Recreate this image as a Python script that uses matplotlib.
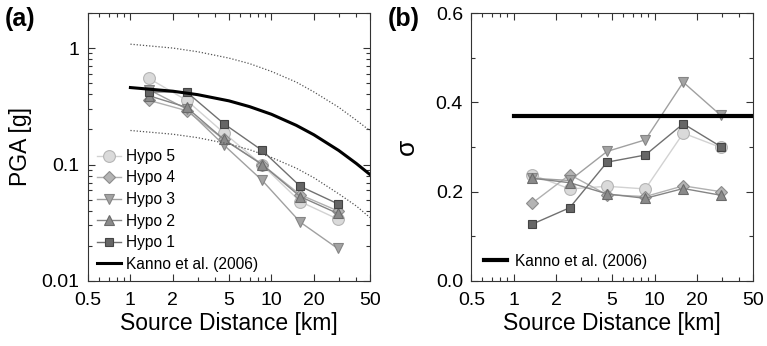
import matplotlib.pyplot as plt
from matplotlib.ticker import FixedLocator, NullFormatter, LogLocator, MultipleLocator

plt.rcParams['font.family'] = ['Liberation Sans', 'DejaVu Sans']

# source distance of the binned points [km]
dist = [1.35, 2.5, 4.6, 8.6, 16, 29.5]

# (a) median PGA [g]
pga_h5 = [0.55, 0.356, 0.187, 0.099, 0.048, 0.034]
pga_h4 = [0.356, 0.29, 0.164, 0.100, 0.055, 0.040]
pga_h3 = [0.44, 0.30, 0.147, 0.073, 0.032, 0.019]
pga_h2 = [0.39, 0.31, 0.164, 0.100, 0.053, 0.038]
pga_h1 = [0.42, 0.42, 0.224, 0.132, 0.065, 0.046]

# (b) standard deviation
sig_h5 = [0.238, 0.206, 0.212, 0.206, 0.331, 0.299]
sig_h4 = [0.174, 0.238, 0.193, 0.189, 0.213, 0.200]
sig_h3 = [0.230, 0.225, 0.290, 0.316, 0.445, 0.371]
sig_h2 = [0.230, 0.220, 0.195, 0.185, 0.207, 0.192]
sig_h1 = [0.127, 0.164, 0.266, 0.282, 0.352, 0.301]

# Kanno et al. (2006) attenuation curve
kanno_x = [1, 2, 3, 5, 7, 10, 15, 20, 30, 40, 50]
kanno_mean = [0.458, 0.426, 0.398, 0.352, 0.314, 0.270, 0.217, 0.180, 0.132, 0.102, 0.082]
kanno_up = [1.08, 1.00, 0.93, 0.82, 0.735, 0.63, 0.51, 0.42, 0.31, 0.24, 0.195]
kanno_lo = [0.196, 0.182, 0.170, 0.150, 0.134, 0.115, 0.093, 0.077, 0.056, 0.044, 0.035]
kanno_sigma = 0.37

# name, pga, sigma, marker, face, edge, line colour, marker size
series = [
    ('Hypo 5', pga_h5, sig_h5, 'o', '#dadada', '#b5b5b5', '#d2d2d2', 8.5),
    ('Hypo 4', pga_h4, sig_h4, 'D', '#b4b4b4', '#8c8c8c', '#b0b0b0', 6),
    ('Hypo 3', pga_h3, sig_h3, 'v', '#a3a3a3', '#858585', '#a0a0a0', 7),
    ('Hypo 2', pga_h2, sig_h2, '^', '#8a8a8a', '#6a6a6a', '#858585', 6.5),
    ('Hypo 1', pga_h1, sig_h1, 's', '#666666', '#444444', '#707070', 5.5),
]

fig = plt.figure(figsize=(7.67, 3.46), dpi=100)
ax1 = fig.add_axes([0.1147, 0.188, 0.3677, 0.7744])
ax2 = fig.add_axes([0.6145, 0.188, 0.3672, 0.7744])

for name, pga, sig, mk, fc, ec, lc, ms in series:
    ax1.plot(dist, pga, color=lc, lw=1.0, marker=mk, ms=ms, mfc=fc, mec=ec,
             mew=0.8, label=name)
    ax2.plot(dist, sig, color=lc, lw=1.0, marker=mk, ms=ms, mfc=fc, mec=ec,
             mew=0.8)

ax1.plot(kanno_x, kanno_mean, color='black', lw=2.2, label='Kanno et al. (2006)')
ax1.plot(kanno_x, kanno_up, color='#555555', lw=0.9, ls=(0, (1, 1.5)))
ax1.plot(kanno_x, kanno_lo, color='#555555', lw=0.9, ls=(0, (1, 1.5)))

ax2.plot([1, 50], [kanno_sigma, kanno_sigma], color='black', lw=3,
         label='Kanno et al. (2006)')

xticks = [0.5, 1, 2, 5, 10, 20, 50]
for ax in (ax1, ax2):
    ax.set_xscale('log')
    ax.set_xlim(0.5, 50)
    ax.xaxis.set_major_locator(FixedLocator(xticks))
    ax.set_xticklabels(['0.5', '1', '2', '5', '10', '20', '50'])
    ax.xaxis.set_minor_locator(LogLocator(base=10, subs=range(2, 10)))
    ax.xaxis.set_minor_formatter(NullFormatter())
    ax.tick_params(which='both', direction='in', top=True, right=True,
                   labelsize=14, width=0.8, colors='#333333', labelcolor='black')
    ax.tick_params(which='major', length=5)
    ax.tick_params(which='minor', length=3)
    ax.tick_params(axis='x', pad=8)
    ax.tick_params(axis='y', pad=6)
    ax.set_xlabel('Source Distance [km]', fontsize=16.5, labelpad=2)
    for s in ax.spines.values():
        s.set_linewidth(0.8)
        s.set_color('#333333')

ax1.set_yscale('log')
ax1.set_ylim(0.01, 2)
ax1.yaxis.set_major_locator(FixedLocator([0.01, 0.1, 1]))
ax1.set_yticklabels(['0.01', '0.1', '1'])
ax1.yaxis.set_minor_locator(LogLocator(base=10, subs=range(2, 10)))
ax1.yaxis.set_minor_formatter(NullFormatter())
ax1.set_ylabel('PGA [g]', fontsize=16.5, labelpad=7)

ax2.set_ylim(0, 0.6)
ax2.set_yticks([0, 0.2, 0.4, 0.6])
ax2.set_yticklabels(['0.0', '0.2', '0.4', '0.6'])
ax2.yaxis.set_minor_locator(MultipleLocator(0.1))
ax2.set_ylabel('σ', fontsize=19, labelpad=12)

ax1.legend(loc='lower left', frameon=False, fontsize=11.2, handlelength=1.5,
           handletextpad=0.35, labelspacing=0.42, borderaxespad=0.4,
           borderpad=0.2)
ax2.legend(loc='lower left', frameon=False, fontsize=11.2, handlelength=1.5,
           handletextpad=0.5, borderaxespad=0.4, borderpad=0.4)

fig.text(0.006, 0.925, '(a)', fontsize=18, fontweight='bold', va='baseline')
fig.text(0.506, 0.925, '(b)', fontsize=18, fontweight='bold', va='baseline')

fig.savefig('out.png', dpi=100)
